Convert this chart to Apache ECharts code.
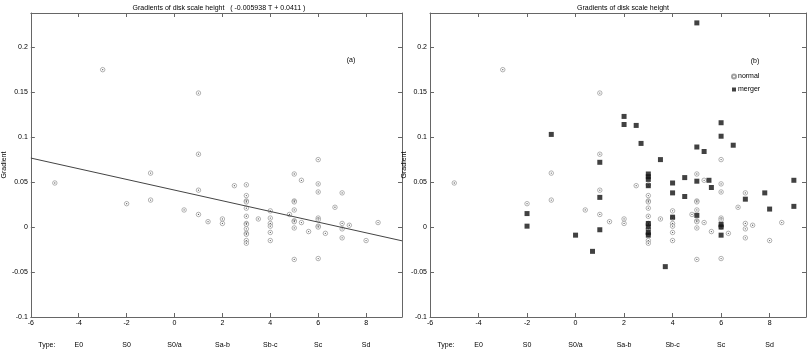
<!DOCTYPE html>
<html>
<head>
<meta charset="utf-8">
<script src="https://cdn.jsdelivr.net/npm/echarts@6/dist/echarts.min.js"></script>
<style>
  html, body { margin: 0; padding: 0; background: #fff; }
  #main { width: 807px; height: 350px; }
</style>
</head>
<body>
<div id="main"></div>
<script>
// morphological type T and gradient, galaxies without merger signs
var normalT = [-5, -3, -2, -1, -1, 0.4, 1, 1, 1, 1, 1.4, 2, 2, 2.5,
    3, 3, 3, 3, 3, 3, 3, 3, 3, 3, 3, 3, 3, 3.5,
    4, 4, 4, 4, 4, 4, 4.8, 5, 5, 5, 5, 5, 5, 5, 5, 5.3, 5.3, 5.6,
    6, 6, 6, 6, 6, 6, 6, 6, 6.3, 6.7, 7, 7, 7, 7, 7.3, 8, 8.5];
var normalGrad = [0.049, 0.175, 0.026, 0.060, 0.030, 0.019, 0.149, 0.081, 0.041, 0.014, 0.006, 0.009, 0.004, 0.046,
    0.047, 0.035, 0.029, 0.028, 0.021, 0.012, 0.004, 0.003, -0.002, -0.007, -0.008, -0.015, -0.018, 0.009,
    0.018, 0.010, 0.004, 0.001, -0.006, -0.015, 0.014, 0.059, 0.029, 0.028, 0.019, 0.007, 0.006, -0.001, -0.036, 0.052, 0.005, -0.005,
    0.075, 0.048, 0.039, 0.010, 0.008, 0.001, 0.000, -0.035, -0.007, 0.022, 0.038, 0.004, -0.002, -0.012, 0.002, -0.015, 0.005];

// galaxies with merger signs (panel b only)
var mergerT = [-2, -2, -1, 0, 0.7, 1, 1, 1, 2, 2, 2.5, 2.7,
    3, 3, 3, 3, 3, 3, 3, 3, 3.5, 3.7, 4, 4, 4, 4.5, 4.5,
    5, 5, 5, 5, 5.3, 5.5, 5.6, 6, 6, 6, 6, 6, 6.5, 7, 7.8, 8, 9, 9];
var mergerGrad = [0.015, 0.001, 0.103, -0.009, -0.027, 0.072, 0.033, -0.003, 0.123, 0.114, 0.113, 0.093,
    0.059, 0.056, 0.053, 0.046, 0.004, 0.000, -0.006, -0.009, 0.075, -0.044, 0.049, 0.038, 0.011, 0.055, 0.034,
    0.227, 0.089, 0.051, 0.013, 0.084, 0.052, 0.044, 0.116, 0.101, 0.003, 0.000, -0.009, 0.091, 0.031, 0.038, 0.020, 0.052, 0.023];

// fitted line -0.005938 T + 0.0411, end points at the plot edges
var fitT = [-6, 9.5];
var fitGrad = [0.0767, -0.0153];

var typeTicks = [-6, -4, -2, 0, 2, 4, 6, 8];
var typeNames = ['Type:', 'E0', 'S0', 'S0/a', 'Sa-b', 'Sb-c', 'Sc', 'Sd'];

function zip(a, b) {
    var out = [];
    for (var i = 0; i < a.length; i++) out.push([a[i], b[i]]);
    return out;
}

var font = 'Liberation Sans';
var frame = '#666';

function xAxes(g) {
    return [
        {
            gridIndex: g, type: 'value', position: 'bottom', min: -6, max: 9.5, interval: 2,
            axisLine: { onZero: false, lineStyle: { color: frame } },
            axisTick: { inside: true, length: 4, lineStyle: { color: frame } },
            axisLabel: { color: '#000', fontSize: 7, fontFamily: font, margin: 3, showMaxLabel: false },
            splitLine: { show: false }
        },
        {
            gridIndex: g, type: 'value', position: 'top', min: -6, max: 9.5, interval: 2,
            axisLine: { onZero: false, lineStyle: { color: frame } },
            axisTick: { inside: true, length: 4, lineStyle: { color: frame } },
            axisLabel: { show: false },
            splitLine: { show: false }
        },
        {
            gridIndex: g, type: 'value', position: 'bottom', offset: 22, min: -6, max: 9.5, interval: 2,
            axisLine: { show: false, onZero: false },
            axisTick: { show: false },
            splitLine: { show: false },
            axisLabel: {
                color: '#000', fontSize: 7, fontFamily: font, margin: 3, showMaxLabel: false,
                formatter: function (v) {
                    var i = typeTicks.indexOf(Math.round(v));
                    if (i < 0) return '';
                    if (i === 0) return '{t|' + typeNames[0] + '}';
                    return typeNames[i];
                },
                rich: { t: { fontSize: 7, fontFamily: font, color: '#000', padding: [0, 0, 0, 32] } }
            }
        }
    ];
}

function yAxes(g, nameGap) {
    return [
        {
            gridIndex: g, type: 'value', position: 'left', min: -0.1, max: 0.238, interval: 0.05,
            name: 'Gradient', nameLocation: 'middle', nameRotate: 90, nameGap: nameGap,
            nameTextStyle: { color: '#000', fontSize: 7, fontFamily: font },
            axisLine: { onZero: false, lineStyle: { color: frame } },
            axisTick: { inside: true, length: 4, lineStyle: { color: frame } },
            axisLabel: { color: '#000', fontSize: 7, fontFamily: font, margin: 3, showMaxLabel: false },
            splitLine: { show: false }
        },
        {
            gridIndex: g, type: 'value', position: 'right', min: -0.1, max: 0.238, interval: 0.05,
            axisLine: { onZero: false, lineStyle: { color: frame } },
            axisTick: { inside: true, length: 4, lineStyle: { color: frame } },
            axisLabel: { show: false },
            splitLine: { show: false }
        }
    ];
}

function ringSeries(name, xi, yi) {
    return {
        name: name, type: 'scatter', xAxisIndex: xi, yAxisIndex: yi,
        symbol: 'circle', symbolSize: 4.5,
        itemStyle: { color: '#fff', borderColor: '#888', borderWidth: 0.8 },
        data: zip(normalT, normalGrad)
    };
}
function dotSeries(xi, yi) {
    return {
        name: 'dot', type: 'scatter', xAxisIndex: xi, yAxisIndex: yi, silent: true,
        symbol: 'circle', symbolSize: 1.3,
        itemStyle: { color: '#333' },
        data: zip(normalT, normalGrad)
    };
}

var chart = echarts.init(document.getElementById('main'));
var option = {
    animation: false,
    backgroundColor: '#fff',
    title: [
        { text: 'Gradients of disk scale height   ( -0.005938 T + 0.0411 )', left: 214, top: 0, textAlign: 'center',
          textStyle: { fontSize: 7, fontWeight: 'normal', fontFamily: font, color: '#000' } },
        { text: 'Gradients of disk scale height', left: 618, top: 0, textAlign: 'center',
          textStyle: { fontSize: 7, fontWeight: 'normal', fontFamily: font, color: '#000' } },
        { text: '(a)', left: 346, top: 52, textAlign: 'center',
          textStyle: { fontSize: 7, fontWeight: 'normal', fontFamily: font, color: '#000' } },
        { text: '(b)', left: 750, top: 53, textAlign: 'center',
          textStyle: { fontSize: 7, fontWeight: 'normal', fontFamily: font, color: '#000' } }
    ],
    legend: {
        data: ['normal', 'merger'], orient: 'vertical', left: 731, top: 73,
        itemWidth: 4, itemHeight: 4, itemGap: 6, padding: 0, selectedMode: false,
        textStyle: { fontSize: 7, fontFamily: font, color: '#000', padding: [0, 0, 0, -3] }
    },
    grid: [
        { left: 26, right: 405, top: 13, bottom: 33 },
        { left: 430, right: 1, top: 13, bottom: 33 }
    ],
    xAxis: xAxes(0).concat(xAxes(1)),
    yAxis: yAxes(0, 15).concat(yAxes(1, 17)),
    series: [
        ringSeries('normal', 0, 0),
        dotSeries(0, 0),
        {
            name: 'fit', type: 'line', xAxisIndex: 0, yAxisIndex: 0, showSymbol: false, silent: true,
            lineStyle: { color: '#444', width: 1 },
            data: zip(fitT, fitGrad)
        },
        ringSeries('normal', 3, 2),
        dotSeries(3, 2),
        {
            name: 'merger', type: 'scatter', xAxisIndex: 3, yAxisIndex: 2,
            symbol: 'rect', symbolSize: 5,
            itemStyle: { color: '#111' },
            data: zip(mergerT, mergerGrad)
        }
    ]
};
chart.setOption(option);
</script>
</body>
</html>
